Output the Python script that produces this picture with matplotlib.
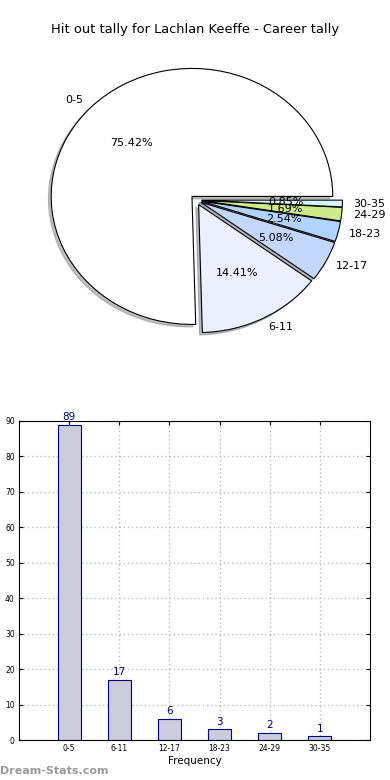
import numpy as np
import matplotlib
matplotlib.use('Agg')
import matplotlib.pyplot as plt

cats = ['0-5', '6-11', '12-17', '18-23', '24-29', '30-35']
counts = [89, 17, 6, 3, 2, 1]
pie_colors = ['#ffffff', '#eaf0fe', '#c4d8fe', '#b0d4ff', '#cfea8a', '#d8f6ff']
title = 'Hit out tally for Lachlan Keeffe - Career tally'

fig = plt.figure(figsize=(3.9, 7.8), dpi=100)

# pie
ax1 = fig.add_axes([20/390, 420/780, 352/390, 320/780])
wedges, texts, autotexts = ax1.pie(counts, labels=cats, colors=pie_colors,
                                   explode=[0.04]*len(counts),
                                   shadow={'ox': -0.014, 'oy': -0.014, 'shade': 0.5},
                                   autopct='%1.2f%%', startangle=0, labeldistance=1.08,
                                   wedgeprops={'linewidth': 0.8, 'edgecolor': 'black'},
                                   textprops={'fontsize': 8})
ax1.set_aspect('auto')
ax1.set_xlim(-1.25, 1.25)
ax1.set_ylim(-1.25, 1.25)
fig.text(0.5, 750/780, title, ha='center', va='center', fontsize=9.4)

# bars
ax2 = fig.add_axes([19/390, 40/780, 351/390, 319/780])
x = np.arange(len(cats))
ax2.bar(x, counts, width=0.46, color='#ccccdd', edgecolor='navy', linewidth=0.8, zorder=2)
for i, v in enumerate(counts):
    ax2.text(i, v + 0.8, str(v), ha='center', va='bottom', color='navy', fontsize=7.5)
ax2.set_xlim(-1, 6)
ax2.set_ylim(0, 90)
ax2.set_yticks(range(0, 91, 10))
ax2.set_xticks(x)
ax2.set_xticklabels(cats)
ax2.tick_params(labelsize=5.5, direction='in', top=True, right=True, length=3, pad=3)
ax2.grid(True, linestyle=(0, (1, 2)), color='#bbbbbb', linewidth=1.0, zorder=0)
ax2.set_axisbelow(True)
ax2.set_xlabel('Frequency', fontsize=7.5, labelpad=2)

fig.text(0.0, 9/780, 'Dream-Stats.com', color='#999999', fontsize=8, fontweight='bold', va='center')

fig.savefig('out.png', dpi=100)
